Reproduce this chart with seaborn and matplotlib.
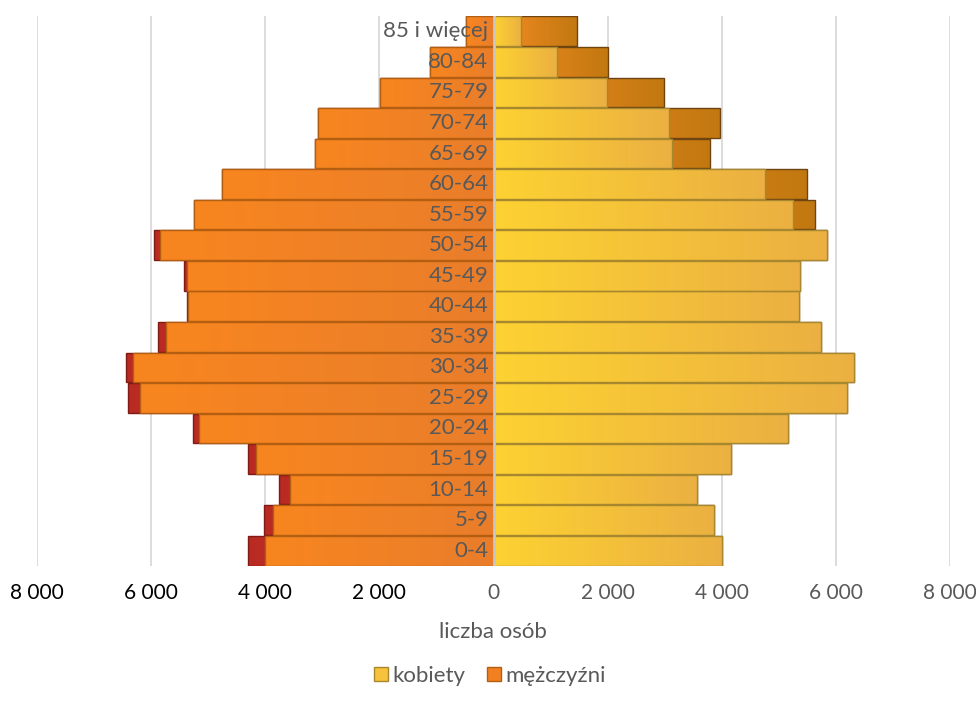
import numpy as np
import pandas as pd
import matplotlib
matplotlib.use("Agg")
import matplotlib.pyplot as plt
import seaborn as sns
from matplotlib.colors import LinearSegmentedColormap
from matplotlib.patches import Patch

# ---- data ----
ages = ['0-4', '5-9', '10-14', '15-19', '20-24', '25-29', '30-34', '35-39',
        '40-44', '45-49', '50-54', '55-59', '60-64', '65-69', '70-74',
        '75-79', '80-84', '85 i więcej']
men = [4310, 4030, 3765, 4310, 5260, 6405, 6440, 5880, 5370, 5420,
       5950, 5250, 4750, 3135, 3075, 1985, 1110, 485]
women = [4005, 3860, 3565, 4155, 5165, 6200, 6310, 5745, 5360, 5375,
         5850, 5635, 5500, 3800, 3965, 2980, 2000, 1470]
xticks = [-8000, -6000, -4000, -2000, 0, 2000, 4000, 6000, 8000]
xlabel = 'liczba osób'
legend_labels = ['kobiety', 'mężczyźni']

# ---- style ----
sns.set_style('white')
plt.rcParams['font.family'] = ['Lato', 'DejaVu Sans']

GREY = '#595959'
fig = plt.figure(figsize=(9.76, 7.13), dpi=100)
ax = fig.add_axes([37 / 976, 1 - 566 / 713, 913 / 976, 550 / 713])

m = np.array(men)
w = np.array(women)
df = pd.DataFrame({
    'age': ages,
    'men_total': -m,
    'men_common': -np.minimum(m, w),
    'women_total': w,
    'women_common': np.minimum(m, w),
})
order = ages[::-1]

specs = [
    ('men_total', '#D0342C', '#7F1A14', ('#B82A22', '#E84A40')),
    ('women_total', '#E8861E', '#6E4410', ('#F68C24', '#C27810')),
    ('men_common', '#F28021', '#B35E10', ('#F8861F', '#E97D2B')),
    ('women_common', '#F7C23C', '#A8882E', ('#FDD232', '#EBB042')),
]

zbase = 2
for i, (col, fc, ec, grad) in enumerate(specs):
    n0 = len(ax.patches)
    sns.barplot(data=df, y='age', x=col, order=order, orient='h', color=fc,
                saturation=1, width=0.97, errorbar=None, ax=ax,
                edgecolor=ec, linewidth=1.0)
    new = ax.patches[n0:]
    z = zbase + i
    cmap = LinearSegmentedColormap.from_list(col, list(grad))
    g = np.linspace(0, 1, 256).reshape(1, -1)
    for p in new:
        p.set_zorder(z + 0.5)
        p.set_facecolor('none')
        x0, y0 = p.get_x(), p.get_y()
        x1, y1 = x0 + p.get_width(), y0 + p.get_height()
        xl, xr = min(x0, x1), max(x0, x1)
        if xr - xl <= 0:
            continue
        im = ax.imshow(g, cmap=cmap, extent=(xl, xr, max(y0, y1), min(y0, y1)),
                       aspect='auto', interpolation='bilinear', zorder=z)
        im.set_clip_path(p)

# grid and centre line
for v in xticks:
    if v != 0:
        ax.axvline(v, color='#d9d9d9', lw=1.3, zorder=0)
ax.axvline(0, color='#c8c8c8', lw=2.0, zorder=10)

ax.set_xlim(-8000, 8000)
ax.set_ylim(len(ages) - 0.5, -0.5)
ax.set_yticks([])
ax.set_ylabel('')
ax.set_xlabel('')
ax.set_xticks(xticks)
ax.set_xticklabels([f'{abs(v):,}'.replace(',', ' ') for v in xticks])
for v, t in zip(xticks, ax.get_xticklabels()):
    t.set_color('black' if v < 0 else GREY)
ax.tick_params(axis='x', length=0, pad=12, labelsize=15)
for s in ax.spines.values():
    s.set_visible(False)

# category labels next to centre
for j, a in enumerate(order):
    ax.text(-90, j, a, ha='right', va='center', fontsize=16, color=GREY, zorder=12)

fig.text(493 / 976, 1 - 632 / 713, xlabel, ha='center', va='center',
         fontsize=16, color=GREY)

handles = [Patch(facecolor='#F7C23C', edgecolor='#A8882E', lw=1),
           Patch(facecolor='#F28021', edgecolor='#B35E10', lw=1)]
fig.legend(handles, legend_labels, loc='center', ncol=2,
           bbox_to_anchor=(490 / 976, 1 - 676 / 713), frameon=False,
           fontsize=16, labelcolor=GREY, handlelength=0.6, handleheight=0.6,
           handletextpad=0.2, columnspacing=1.0)

fig.savefig('out.png', dpi=100)
